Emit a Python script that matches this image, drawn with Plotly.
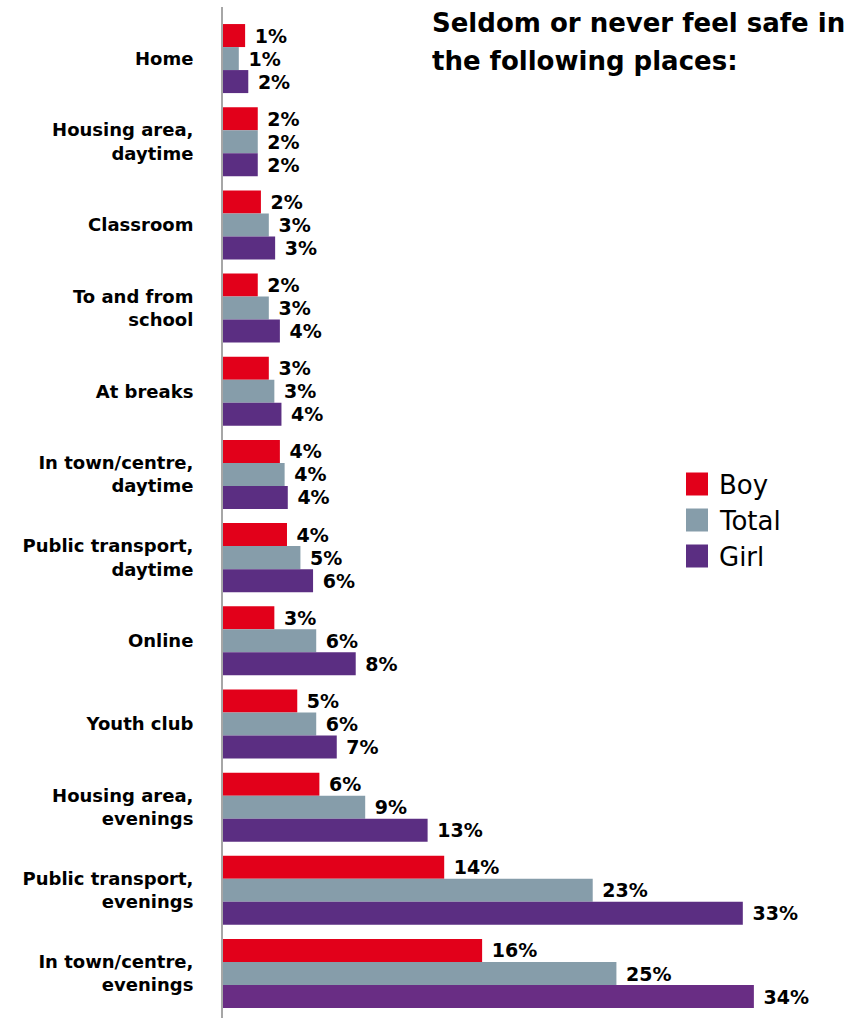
import plotly.graph_objects as go

# Places asked about, top to bottom
places = [
    "Home",
    "Housing area,<br>daytime",
    "Classroom",
    "To and from<br>school",
    "At breaks",
    "In town/centre,<br>daytime",
    "Public transport,<br>daytime",
    "Online",
    "Youth club",
    "Housing area,<br>evenings",
    "Public transport,<br>evenings",
    "In town/centre,<br>evenings",
]

# Share (%) who seldom or never feel safe
boy = [1.4, 2.2, 2.4, 2.2, 2.9, 3.6, 4.05, 3.25, 4.7, 6.1, 14.0, 16.4]
total = [1.0, 2.2, 2.9, 2.9, 3.25, 3.9, 4.9, 5.9, 5.9, 9.0, 23.4, 24.9]
girl = [1.6, 2.2, 3.3, 3.6, 3.7, 4.1, 5.7, 8.4, 7.2, 12.95, 32.9, 33.6]

series_names = ["Boy", "Total", "Girl"]
series_values = [boy, total, girl]

title_lines = ["Seldom or never feel safe in", "the following places:"]

# Styling
RED = "#E2001A"
GREY = "#869DAA"
PURPLE = "#5B2E82"
PURPLE_LAST = "#692D84"
series_colors = [RED, GREY, [PURPLE] * (len(places) - 1) + [PURPLE_LAST]]
legend_colors = [RED, GREY, PURPLE]

W, H = 859, 1021
ML, MR, MT, MB = 223, 4, 7, 3
PW, PH = W - ML - MR, H - MT - MB

BOLD_FONT = "DejaVu Sans"


def px_x(x):
    return (x - ML) / PW


def px_y(y):
    return (H - MB - y) / PH


fig = go.Figure()
for name, vals, col in zip(series_names, series_values, series_colors):
    fig.add_trace(
        go.Bar(
            name=name,
            y=places,
            x=vals,
            orientation="h",
            marker=dict(color=col, line=dict(width=0)),
            texttemplate="\u00a0%{x:.0f}%",
            textposition="outside",
            textfont=dict(family=BOLD_FONT, size=19, color="black", weight="bold"),
            cliponaxis=False,
            showlegend=False,
        )
    )

# Legend: coloured squares with series names
for i, (name, col) in enumerate(zip(series_names, legend_colors)):
    yc = 484 + i * 36
    fig.add_shape(
        type="rect", xref="paper", yref="paper",
        x0=px_x(686), x1=px_x(708), y0=px_y(yc + 11.5), y1=px_y(yc - 11.5),
        fillcolor=col, line=dict(width=0),
    )
    fig.add_annotation(
        xref="paper", yref="paper", x=px_x(717), y=px_y(yc + 1),
        xanchor="left", yanchor="middle", text=name, showarrow=False,
        font=dict(family="DejaVu Sans", size=26, color="black"),
    )

# Two-line heading in the upper right
for j, line in enumerate(title_lines):
    fig.add_annotation(
        xref="paper", yref="paper", x=px_x(430), y=px_y(23 + j * 38),
        xanchor="left", yanchor="middle", align="left", text=line, showarrow=False,
        font=dict(family=BOLD_FONT, size=26, color="black", weight="bold"),
    )

fig.update_layout(
    width=W, height=H,
    margin=dict(l=ML, r=MR, t=MT, b=MB),
    paper_bgcolor="white", plot_bgcolor="white",
    barmode="group", bargap=0.17, bargroupgap=0,
    xaxis=dict(range=[0, 40], visible=False, showgrid=False, zeroline=False),
    yaxis=dict(
        range=[11.535, -0.62],
        showgrid=False, zeroline=False,
        showline=True, linecolor="#A6A6A6", linewidth=2,
        ticks="", ticklabelstandoff=24,
        tickfont=dict(family=BOLD_FONT, size=18, color="black", weight="bold"),
    ),
)

fig.write_html("out.html")
